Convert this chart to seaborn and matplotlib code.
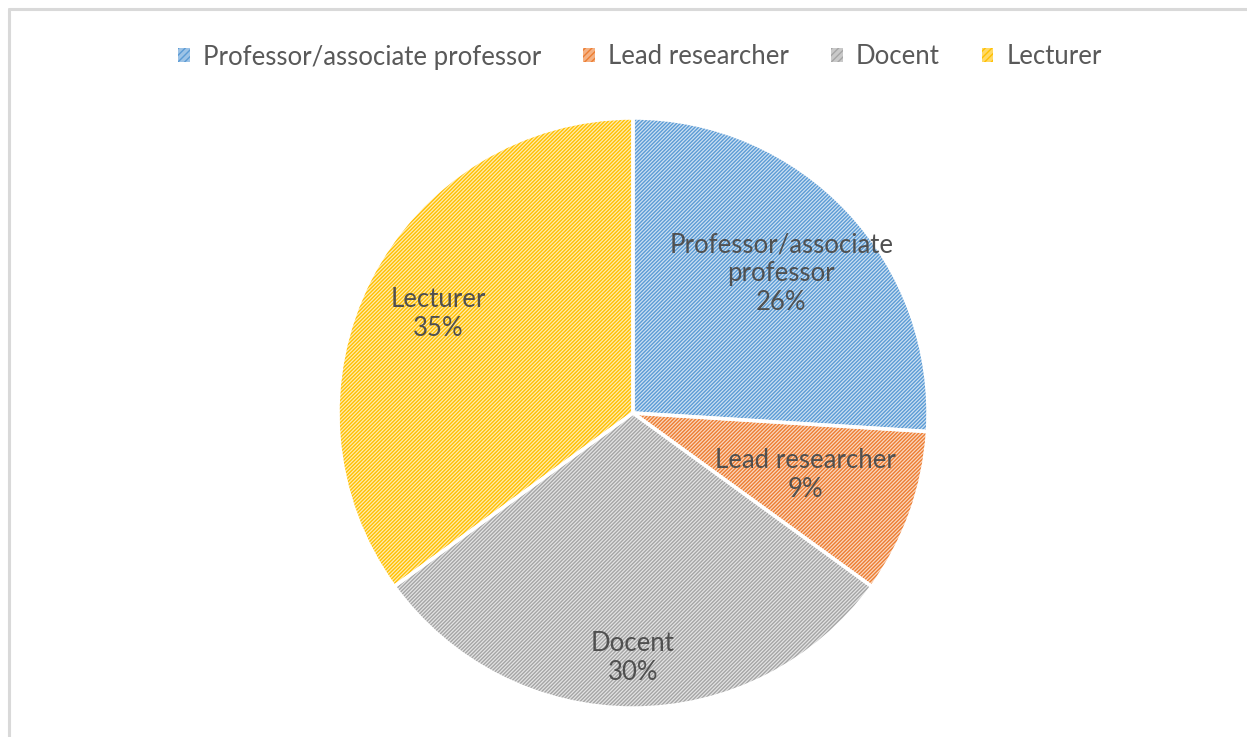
import numpy as np
import matplotlib
matplotlib.use("Agg")
import matplotlib.pyplot as plt
import seaborn as sns
from matplotlib.patches import Patch
from matplotlib.lines import Line2D
from matplotlib.colors import to_rgb

categories = ["Professor/associate professor", "Lead researcher", "Docent", "Lecturer"]
inner_labels = ["Professor/associate\nprofessor", "Lead researcher", "Docent", "Lecturer"]
values = [26, 9, 30, 35]
colors = ["#5B9BD5", "#ED7D31", "#A5A5A5", "#FFC000"]
label_dist = [0.69, 0.62, 0.83, 0.74]

sns.set_theme(style="white")
plt.rcParams["font.family"] = ["Lato", "DejaVu Sans"]
plt.rcParams["hatch.linewidth"] = 1.0

W, H = 1247, 737
fig = plt.figure(figsize=(W / 100, H / 100), dpi=100)
fig.patch.set_facecolor("white")

cx, cy, r = 633, 413, 295
ax = fig.add_axes([(cx - r) / W, (H - cy - r) / H, 2 * r / W, 2 * r / H])

def tint(c, a=0.3):
    rgb = np.array(to_rgb(c))
    return tuple(rgb * a + (1 - a))

light = [tint(c) for c in colors]
wedges, _ = ax.pie(values, colors=light, startangle=90, counterclock=False,
                   wedgeprops=dict(linewidth=0))
for w, c in zip(wedges, colors):
    w.set_hatch("/" * 9)
    w.set_edgecolor(c)
    w.set_linewidth(0)
# white separators
ax.pie(values, colors=["none"] * 4, startangle=90, counterclock=False,
       wedgeprops=dict(linewidth=2.5, edgecolor="white", fill=False))

for w, lab, v, d in zip(wedges, inner_labels, values, label_dist):
    ang = np.deg2rad((w.theta1 + w.theta2) / 2)
    ax.text(d * np.cos(ang), d * np.sin(ang), f"{lab}\n{v}%", ha="center", va="center",
            fontsize=18.5, color="#505050", linespacing=1.2)

ax.set_xlim(-1, 1)
ax.set_ylim(-1, 1)
ax.set_aspect("equal")
ax.axis("off")

handles = [Patch(facecolor=tint(c, 0.6), edgecolor=c, hatch="/" * 5, linewidth=0) for c in colors]
fig.legend(handles, categories, loc="center", bbox_to_anchor=(640 / W, 1 - 57 / H), ncol=4,
           frameon=False, fontsize=18.5, labelcolor="#595959", handlelength=0.45, handleheight=0.45,
           handletextpad=0.5, columnspacing=1.65)

# chart frame
fig.add_artist(Line2D([9 / W, 9 / W], [0, 1 - 9 / H], color="#D9D9D9", linewidth=2.2, transform=fig.transFigure))
fig.add_artist(Line2D([9 / W, 1], [1 - 9 / H, 1 - 9 / H], color="#D9D9D9", linewidth=2.2, transform=fig.transFigure))

fig.savefig("out.png", dpi=100, facecolor="white")
